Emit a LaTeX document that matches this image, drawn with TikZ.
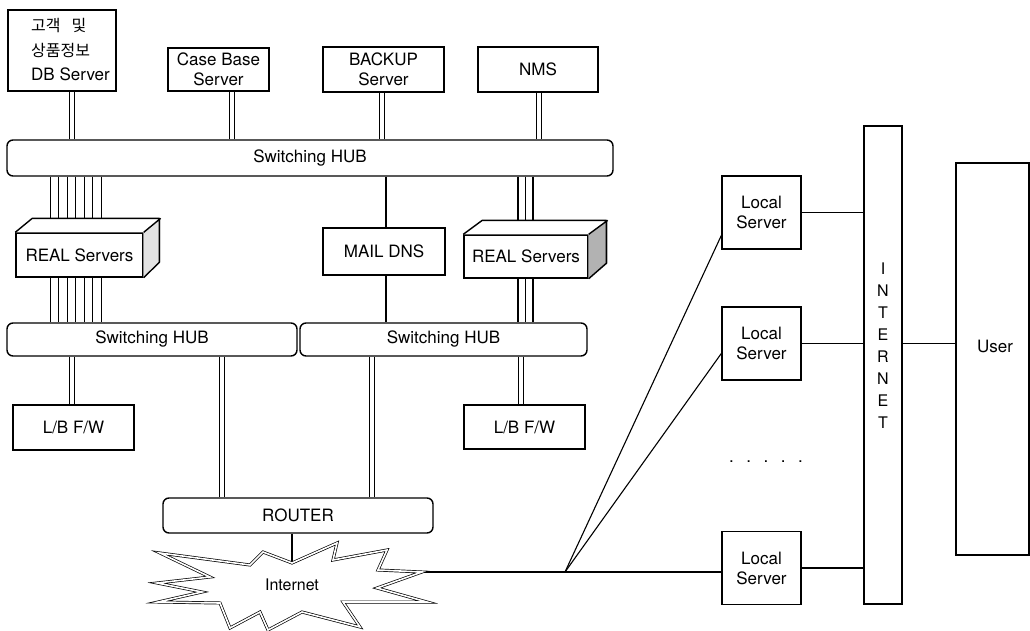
\documentclass[tikz,border=0pt]{standalone}
\usepackage{fontspec}
\setmainfont{TeX Gyre Heros}
\newfontfamily\kr{Noto Sans CJK KR}
\usetikzlibrary{calc,backgrounds}
\newcommand\dblconn[3]{%
  \draw[dl] ($(#1 |- #2)+(-2.3,0)$) -- ($(#1 |- #3)+(-2.3,0)$);
  \draw[dl] ($(#1 |- #2)+(2.3,0)$) -- ($(#1 |- #3)+(2.3,0)$);}
\begin{document}
\begin{tikzpicture}[x=1pt,y=-1pt,
  box/.style={draw, line width=1.4pt, fill=white, inner sep=0pt, align=center, font=\fontsize{17}{20}\selectfont},
  hub/.style={box, rounded corners=6pt},
  dl/.style={draw, line width=1pt},
  ln/.style={draw, line width=1.1pt},
  txt/.style={inner sep=0pt, align=center, font=\fontsize{17}{20}\selectfont}]
\useasboundingbox (0,0) rectangle (1030,631);

% top servers
\node[box, minimum width=108pt, minimum height=81pt] (db) at (62,50.5) {};
\node[txt, anchor=west, align=left, font=\fontsize{17}{24.5}\selectfont] (dbt) at (31,50) {{\kr\fontsize{16}{24.5}\selectfont 고객\hspace{11pt}및}\\{\kr\fontsize{16}{24.5}\selectfont 상품정보}\\DB Server};
\node[box, minimum width=101pt, minimum height=43pt] (cb) at (218.5,69.5) {Case Base\\Server};
\node[box, minimum width=121pt, minimum height=45pt] (bk) at (383.5,69.5) {BACKUP\\Server};
\node[box, minimum width=120pt, minimum height=45pt] (nms) at (538,69.5) {NMS};

% hubs
\node[hub, minimum width=606pt, minimum height=36pt] (hubT) at (310,158) {Switching HUB};
\node[hub, minimum width=290pt, minimum height=33pt] (hubB1) at (152,339.5) {Switching HUB};
\node[hub, minimum width=287pt, minimum height=33pt] (hubB2) at (443.5,339.5) {Switching HUB};

% middle row
\node[box, minimum width=127pt, minimum height=44pt] (realL) at (79.5,255) {REAL Servers};
\node[box, minimum width=122pt, minimum height=47pt] (mail) at (384,251.5) {MAIL DNS};
\node[box, minimum width=124pt, minimum height=43pt] (realR) at (526,256.5) {REAL Servers};

% 3D faces
\path[fill=white] (realL.north west) -- ++(17,-14) -- ++(127,0) -- ++(0,44) -- (realL.south east) -- (realL.north east) -- cycle;
\fill[gray!22] (realL.north east) -- ++(17,-14) -- ++(0,44) -- (realL.south east) -- cycle;
\draw[line width=1.4pt, line join=round] (realL.north west) -- ++(17,-14) -- ++(127,0) -- ++(0,44) -- (realL.south east) (realL.north east) -- ++(17,-14);
\path[fill=white] (realR.north west) -- ++(19,-14) -- ++(124,0) -- ++(0,43) -- (realR.south east) -- (realR.north east) -- cycle;
\fill[gray!60] (realR.north east) -- ++(19,-14) -- ++(0,43) -- (realR.south east) -- cycle;
\draw[line width=1.4pt, line join=round] (realR.north west) -- ++(19,-14) -- ++(124,0) -- ++(0,43) -- (realR.south east) (realR.north east) -- ++(19,-14);

% lower row
\node[box, minimum width=121pt, minimum height=45pt] (lbL) at (73.5,427.5) {L/B F/W};
\node[box, minimum width=121pt, minimum height=44pt] (lbR) at (524.5,427) {L/B F/W};
\node[hub, minimum width=270pt, minimum height=35pt] (router) at (298,515.5) {ROUTER};

% Internet burst
\draw[line width=0.7pt, double, double distance=1.6pt, fill=white]
  (160,553) -- (250,565) -- (263,552) -- (292,563) -- (337,543) -- (333,560) -- (387,550) -- (378,570) -- (422,572) -- (377,588) -- (427,602) -- (343,602) -- (360,627) -- (302,612) -- (268,630) -- (260,612) -- (230,628) -- (220,603) -- (158,602) -- (202,592) -- (157,583) -- (210,577) -- cycle;
\node[txt, font=\fontsize{16}{18}\selectfont] (inet) at (292,585) {Internet};
\coordinate (sttop) at (292,563);
\coordinate (stR) at (422,572);
\coordinate (J) at (565,572);

% right side
\node[box, minimum width=79pt, minimum height=73pt] (ls1) at (761.5,212.5) {Local\\Server};
\node[box, minimum width=79pt, minimum height=73pt] (ls2) at (761.5,343.5) {Local\\Server};
\node[box, minimum width=79pt, minimum height=73pt] (ls3) at (761.5,568) {Local\\Server};
\node[txt] (dots) at (766,462) {.\hspace{12.5pt}.\hspace{12.5pt}.\hspace{12.5pt}.\hspace{12.5pt}.};
\node[box, minimum width=38pt, minimum height=478pt] (bar) at (883,365) {};
\node[txt, font=\fontsize{16}{22}\selectfont] (bart) at (883,346) {I\\N\\T\\E\\R\\N\\E\\T};
\node[box, minimum width=73pt, minimum height=392pt] (user) at (992.5,359) {};
\node[txt] (usert) at (995,346) {User};

% x positions
\coordinate (xdb) at (72,0);
\coordinate (xcb) at (232,0);
\coordinate (xbk) at (382,0);
\coordinate (xnms) at (539,0);
\coordinate (xmail) at (386,0);
\coordinate (xlbl) at (72,0);
\coordinate (xr1) at (222,0);
\coordinate (xr2) at (372,0);
\coordinate (xlbr) at (521,0);

\begin{pgfonlayer}{background}
\dblconn{xdb}{db.south}{hubT.north}
\dblconn{xcb}{cb.south}{hubT.north}
\dblconn{xbk}{bk.south}{hubT.north}
\dblconn{xnms}{nms.south}{hubT.north}
\foreach \o in {44,52.5,61,69.5,78,86.5,95}
  \draw[ln] ([xshift=\o pt]hubT.south west) -- ([xshift=\o pt]hubB1.north west);
\foreach \xx in {518,525.5,533} {
  \coordinate (tmp) at (\xx,0);
  \draw[ln] (tmp |- hubT.south) -- (tmp |- hubB2.north);
}
\draw[ln] (xmail |- hubT.south) -- (xmail |- mail.north);
\draw[ln] (xmail |- mail.south) -- (xmail |- hubB2.north);
\dblconn{xlbl}{hubB1.south}{lbL.north}
\dblconn{xr1}{hubB1.south}{router.north}
\dblconn{xr2}{hubB2.south}{router.north}
\dblconn{xlbr}{hubB2.south}{lbR.north}
\draw[ln] (sttop |- router.south) -- (sttop);
\draw[ln] (stR) -- (J) -- (J -| ls3.west);
\draw[ln] (J) -- ($(ls1.west)+(0,23)$);
\draw[ln] (J) -- ($(ls2.west)+(0,10)$);
\draw[ln] (ls1.east) -- (ls1.east -| bar.west);
\draw[ln] (ls2.east) -- (ls2.east -| bar.west);
\draw[ln] (ls3.east) -- (ls3.east -| bar.west);
\draw[ln] (ls2.east -| bar.east) -- (ls2.east -| user.west);
\end{pgfonlayer}
\end{tikzpicture}
\end{document}
